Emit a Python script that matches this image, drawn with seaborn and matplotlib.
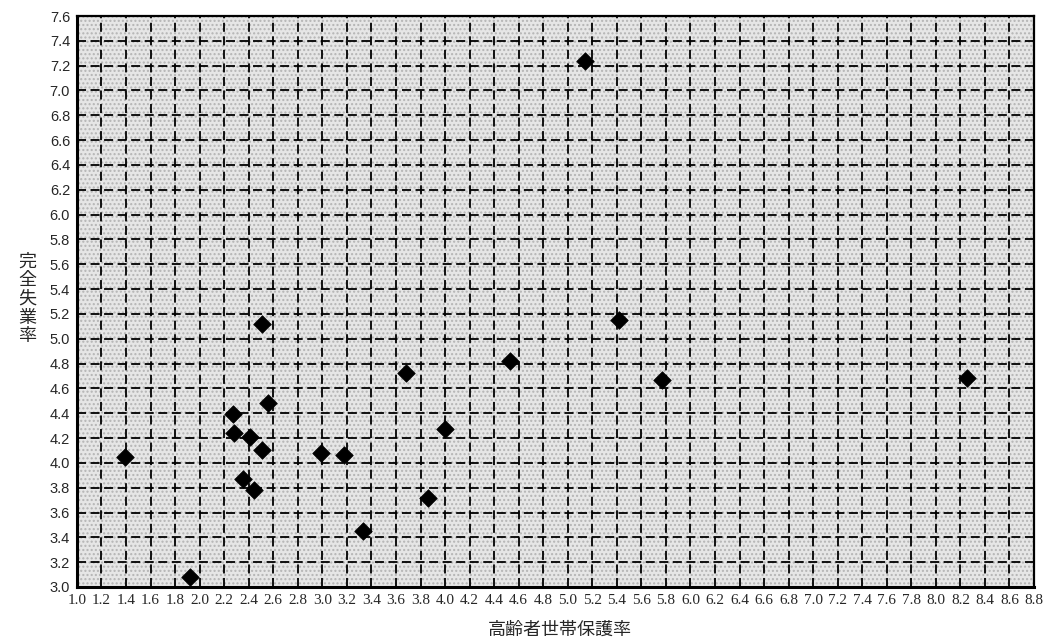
import numpy as np
import pandas as pd
import matplotlib
matplotlib.use("Agg")
import matplotlib.pyplot as plt
import seaborn as sns

# values
hogo_rate = [1.39, 1.92, 2.27, 2.28, 2.41, 2.505, 2.51, 2.35, 2.445, 2.56,
             2.99, 3.18, 3.33, 3.68, 3.86, 4.00, 4.53, 5.14, 5.42, 5.77, 8.25]
unemp_rate = [4.05, 3.08, 4.39, 4.24, 4.21, 5.12, 4.10, 3.87, 3.78, 4.48,
              4.08, 4.06, 3.45, 4.72, 3.72, 4.27, 4.82, 7.24, 5.15, 4.67, 4.68]

x_ticks = np.round(np.arange(1.0, 8.81, 0.2), 1)
y_ticks = np.round(np.arange(3.0, 7.61, 0.2), 1)

x_label = "高齢者世帯保護率"
y_label = "完全失業率"

df = pd.DataFrame({"x": hogo_rate, "y": unemp_rate})

sns.set_style("white")
plt.rcParams['font.family'] = ['Liberation Serif', 'Noto Sans CJK JP', 'DejaVu Sans']

fig = plt.figure(figsize=(10.47, 6.43), dpi=100)
ax = fig.add_axes([0.0735, 0.0871, 0.9141, 0.888])

# stippled grey background
ax.set_facecolor("#e6e6e6")
ax.add_patch(plt.Rectangle((0, 0), 1, 1, transform=ax.transAxes, facecolor="none",
                           edgecolor="#b4b4b4", hatch="....", lw=0, zorder=0))

sns.scatterplot(data=df, x="x", y="y", marker="D", color="black", s=80,
                edgecolor="black", linewidth=0.5, ax=ax, zorder=5)

ax.set_xlim(1.0, 8.8)
ax.set_ylim(3.0, 7.6)
ax.set_xticks(x_ticks)
ax.set_yticks(y_ticks)
ax.set_xticklabels([f"{v:.1f}" for v in x_ticks], fontsize=11, family='Liberation Serif')
ax.set_yticklabels([f"{v:.1f}" for v in y_ticks], fontsize=10.5, family='Liberation Sans')
ax.tick_params(axis="both", length=0, pad=5)

ax.grid(True, color="black", linestyle=(0, (5, 2.5)), linewidth=1.3)
ax.set_axisbelow(True)

for side in ["left", "bottom"]:
    ax.spines[side].set_linewidth(2.2)
for side in ["top", "right"]:
    ax.spines[side].set_linewidth(1.6)
for sp in ax.spines.values():
    sp.set_color("black")
    sp.set_visible(True)

ax.set_xlabel("")
ax.set_ylabel("")
fig.text(0.535, 0.02, x_label, ha="center", va="center", fontsize=13,
         family=['Noto Sans CJK JP', 'DejaVu Sans'])
fig.text(0.026, 0.535, "\n".join(y_label), ha="center", va="center", fontsize=13,
         linespacing=1.05, family=['Noto Sans CJK JP', 'DejaVu Sans'])

plt.savefig("out.png", dpi=100)
plt.close(fig)
